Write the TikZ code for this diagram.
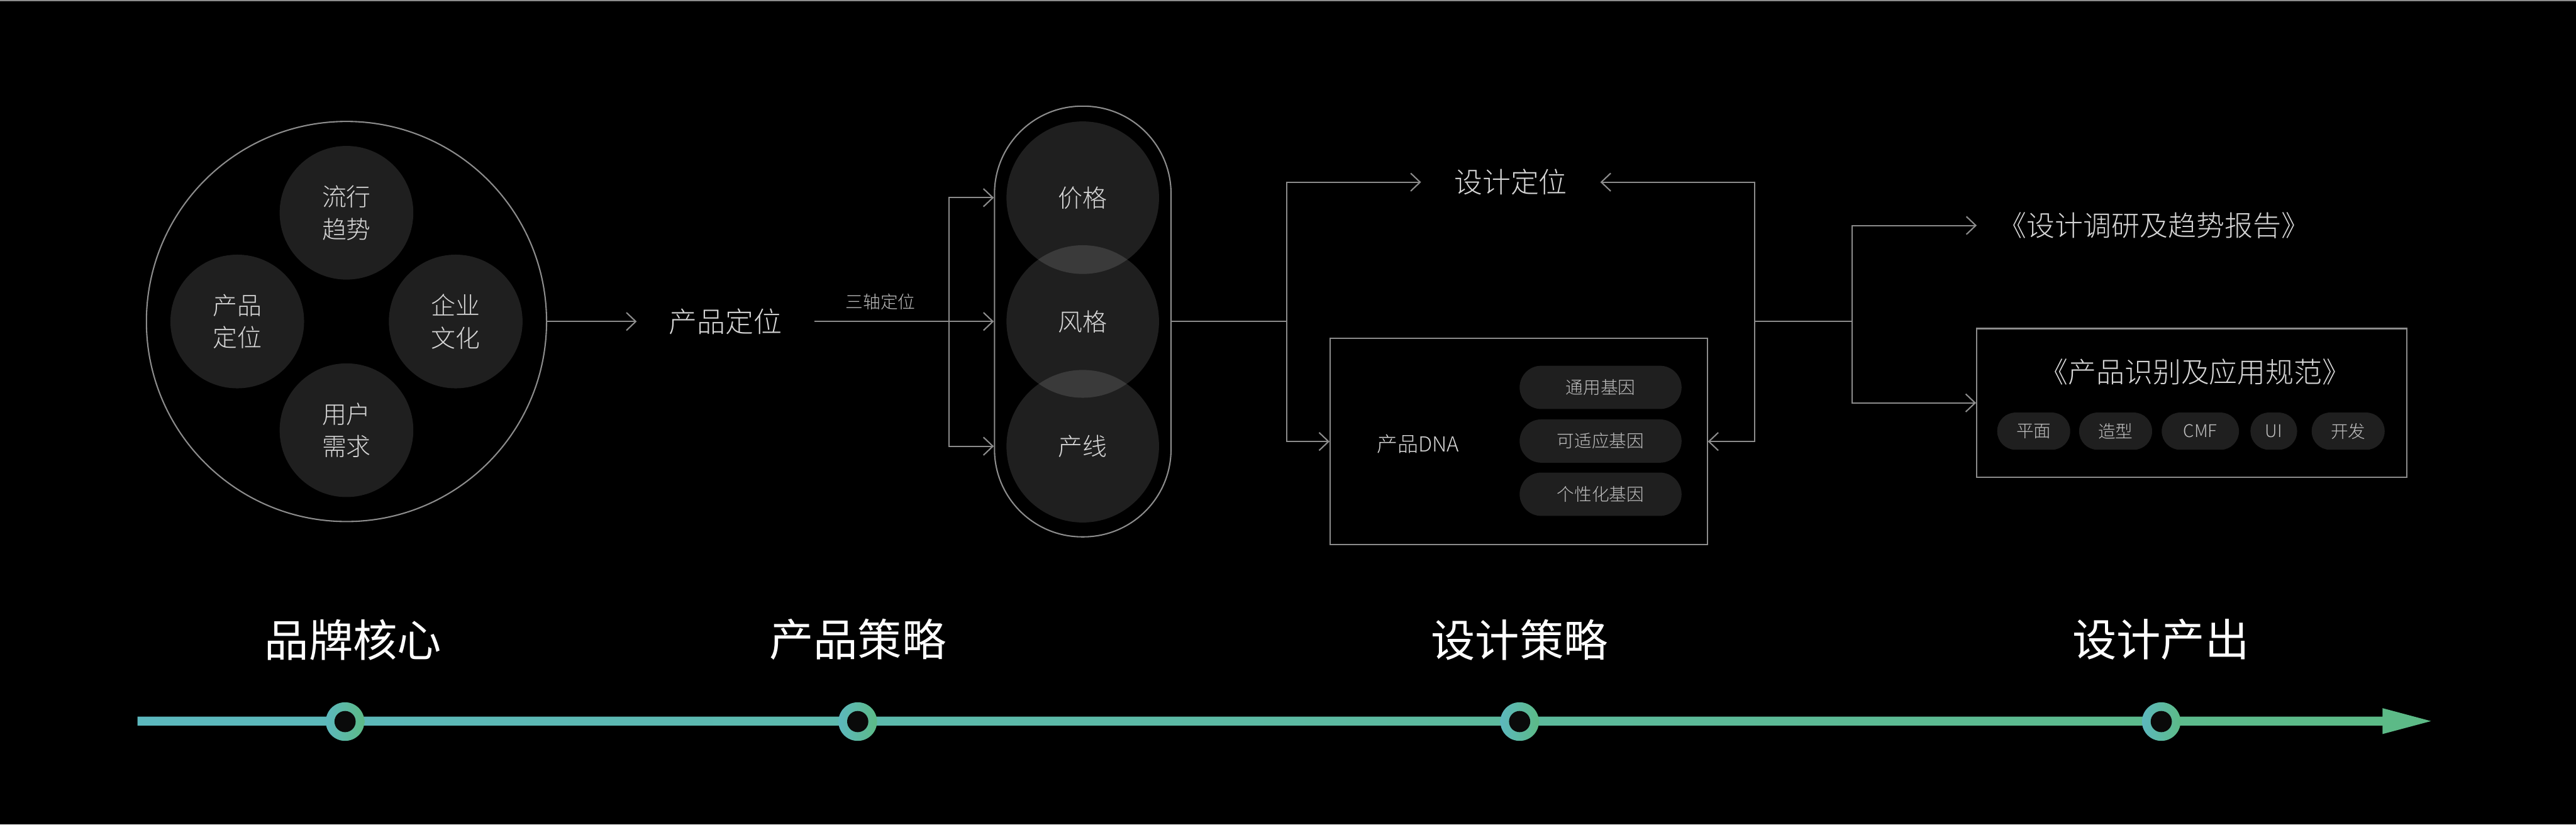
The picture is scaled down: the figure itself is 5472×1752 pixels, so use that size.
\documentclass[tikz,border=0pt]{standalone}
\usepackage{fontspec}
\IfFontExistsTF{Noto Sans CJK SC Light}
  {\setmainfont{Noto Sans CJK SC Light}}
  {\setmainfont{Noto Sans CJK SC}}
\newfontfamily\headfont{Noto Sans CJK SC}
\usetikzlibrary{arrows.meta}
\definecolor{bgk}{RGB}{0,0,0}
\definecolor{lnc}{RGB}{140,140,140}
\definecolor{txc}{RGB}{214,214,214}
\definecolor{txs}{RGB}{190,190,190}
\definecolor{dim}{RGB}{31,31,31}
\definecolor{tla}{RGB}{92,184,190}
\definecolor{tlb}{RGB}{92,186,134}
\definecolor{hole}{RGB}{10,10,10}
\tikzset{
  ln/.style={draw=lnc, line width=1.4pt},
  arr/.style={ln, -{Straight Barb[length=10pt,width=19pt]}},
  lbl/.style={text=txc, inner sep=0pt, font=\fontsize{30pt}{36pt}\selectfont},
  tag/.style={text=txs, inner sep=0pt, font=\fontsize{18.5pt}{22pt}\selectfont},
  orb/.style={
    circle, fill=dim, inner sep=0pt, minimum size=142pt, align=center,
    text=txc, font=\fontsize{26pt}{34.5pt}\selectfont
  },
  axisorb/.style={
    circle, fill=white, fill opacity=.12, text opacity=1, inner sep=0pt,
    minimum size=162pt, text=txc, font=\fontsize{26pt}{30pt}\selectfont
  },
  frame/.style={ln, rectangle, inner sep=0pt},
  gene/.style={
    fill=dim, rounded corners=23pt, minimum width=172pt, minimum height=46pt,
    inner sep=0pt, text=txs, font=\fontsize{18.5pt}{22pt}\selectfont
  },
  chip/.style={
    fill=dim, rounded corners=19.5pt, minimum height=39.5pt,
    inner sep=0pt, text=txs, font=\fontsize{18.5pt}{22pt}\selectfont
  },
  ring/.style={
    circle, inner sep=0pt, minimum size=41pt, left color=tla, right color=tlb,
    path picture={\fill[hole] (path picture bounding box.center) circle (11.25pt);}
  },
  stage/.style={text=white, inner sep=0pt, font=\headfont\fontsize{47pt}{52pt}\selectfont}
}
\begin{document}
\begin{tikzpicture}[x=0.5pt,y=-0.5pt]
  \useasboundingbox (0,0) rectangle (5472,1752);
  \fill[bgk] (0,0) rectangle (5472,1752);
  \draw[lnc, line width=1pt] (0,1) -- (5472,1);

  % brand core
  \node[circle, ln, minimum size=425pt, inner sep=0pt] (core) at (736,683) {};
  \node[orb] (trend) at (736,452) {流行\\趋势};
  \node[orb] (ppos) at (504,683) {产品\\定位};
  \node[orb] (corp) at (968,683) {企业\\文化};
  \node[orb] (need) at (736,914) {用户\\需求};

  % product strategy
  \node[lbl, inner xsep=34pt] (pdef) at (1541,683) {产品定位};
  \node[frame, rounded corners=93pt, minimum width=187.5pt, minimum height=457.5pt] (pill) at (2300,683) {};
  \node[axisorb] (price) at (2300,420) {价格};
  \node[axisorb] (pstyle) at (2300,683) {风格};
  \node[axisorb] (pline) at (2300,948) {产线};
  \coordinate (f1) at (2016,683);
  \draw[arr] (core) -- (pdef);
  \draw[arr] (pdef) -- node[tag, pos=.37, above=12pt] (axes) {三轴定位} (pill);
  \draw[arr] (f1) |- (pill.west |- price);
  \draw[arr] (f1) |- (pill.west |- pline);

  % design strategy
  \node[lbl, inner xsep=35pt] (dpos) at (3209,387) {设计定位};
  \node[frame, minimum width=400.5pt, minimum height=219pt] (dna) at (3226,938) {};
  \node[lbl, font=\fontsize{22pt}{26pt}\selectfont] (dnat) at (3012,943) {产品DNA};
  \node[gene] (g1) at (3400,823) {通用基因};
  \node[gene] (g2) at (3400,937) {可适应基因};
  \node[gene] (g3) at (3400,1050) {个性化基因};
  \coordinate (f2) at (2733,683);
  \coordinate (f3) at (3727,683);
  \draw[ln] (pill) -- (f2);
  \draw[arr] (f2) |- (dpos.west);
  \draw[arr] (f2) |- (dna.west);
  \draw[arr] (f3) |- (dpos.east);
  \draw[arr] (f3) |- (dna.east);

  % design output
  \coordinate (f4) at (3934,683);
  \node[lbl, anchor=west, inner xsep=23pt] (rep) at (4199,479) {《设计调研及趋势报告》};
  \node[frame, minimum width=457pt, minimum height=158pt] (outbox) at (4656,856) {};
  \node[lbl] (spec) at (4663,790) {《产品识别及应用规范》};
  \node[chip, minimum width=77.5pt] (c1) at (4320,916) {平面};
  \node[chip, minimum width=77.5pt] (c2) at (4494,916) {造型};
  \node[chip, minimum width=82pt] (c3) at (4674,916) {CMF};
  \node[chip, minimum width=49.5pt] (c4) at (4830,916) {UI};
  \node[chip, minimum width=77.5pt] (c5) at (4988,916) {开发};
  \draw[ln] (f3) -- (f4);
  \draw[arr] (f4) |- (rep.west);
  \draw[arr] (f4) |- (outbox.west);

  % timeline
  \shade[left color=tla, right color=tlb] (292,1522.5) -- (5061,1522.5) -- (5061,1504.5)
    -- (5164,1532) -- (5061,1559.5) -- (5061,1541.5) -- (292,1541.5) -- cycle;
  \node[ring] (m1) at (733,1533) {};
  \node[ring] (m2) at (1822,1533) {};
  \node[ring] (m3) at (3228,1533) {};
  \node[ring] (m4) at (4591,1533) {};
  \node[stage] (s1) at (750,1359) {品牌核心};
  \node[stage] (s2) at (1822,1359) {产品策略};
  \node[stage] (s3) at (3228,1359) {设计策略};
  \node[stage] (s4) at (4590,1359) {设计产出};
\end{tikzpicture}
\end{document}
